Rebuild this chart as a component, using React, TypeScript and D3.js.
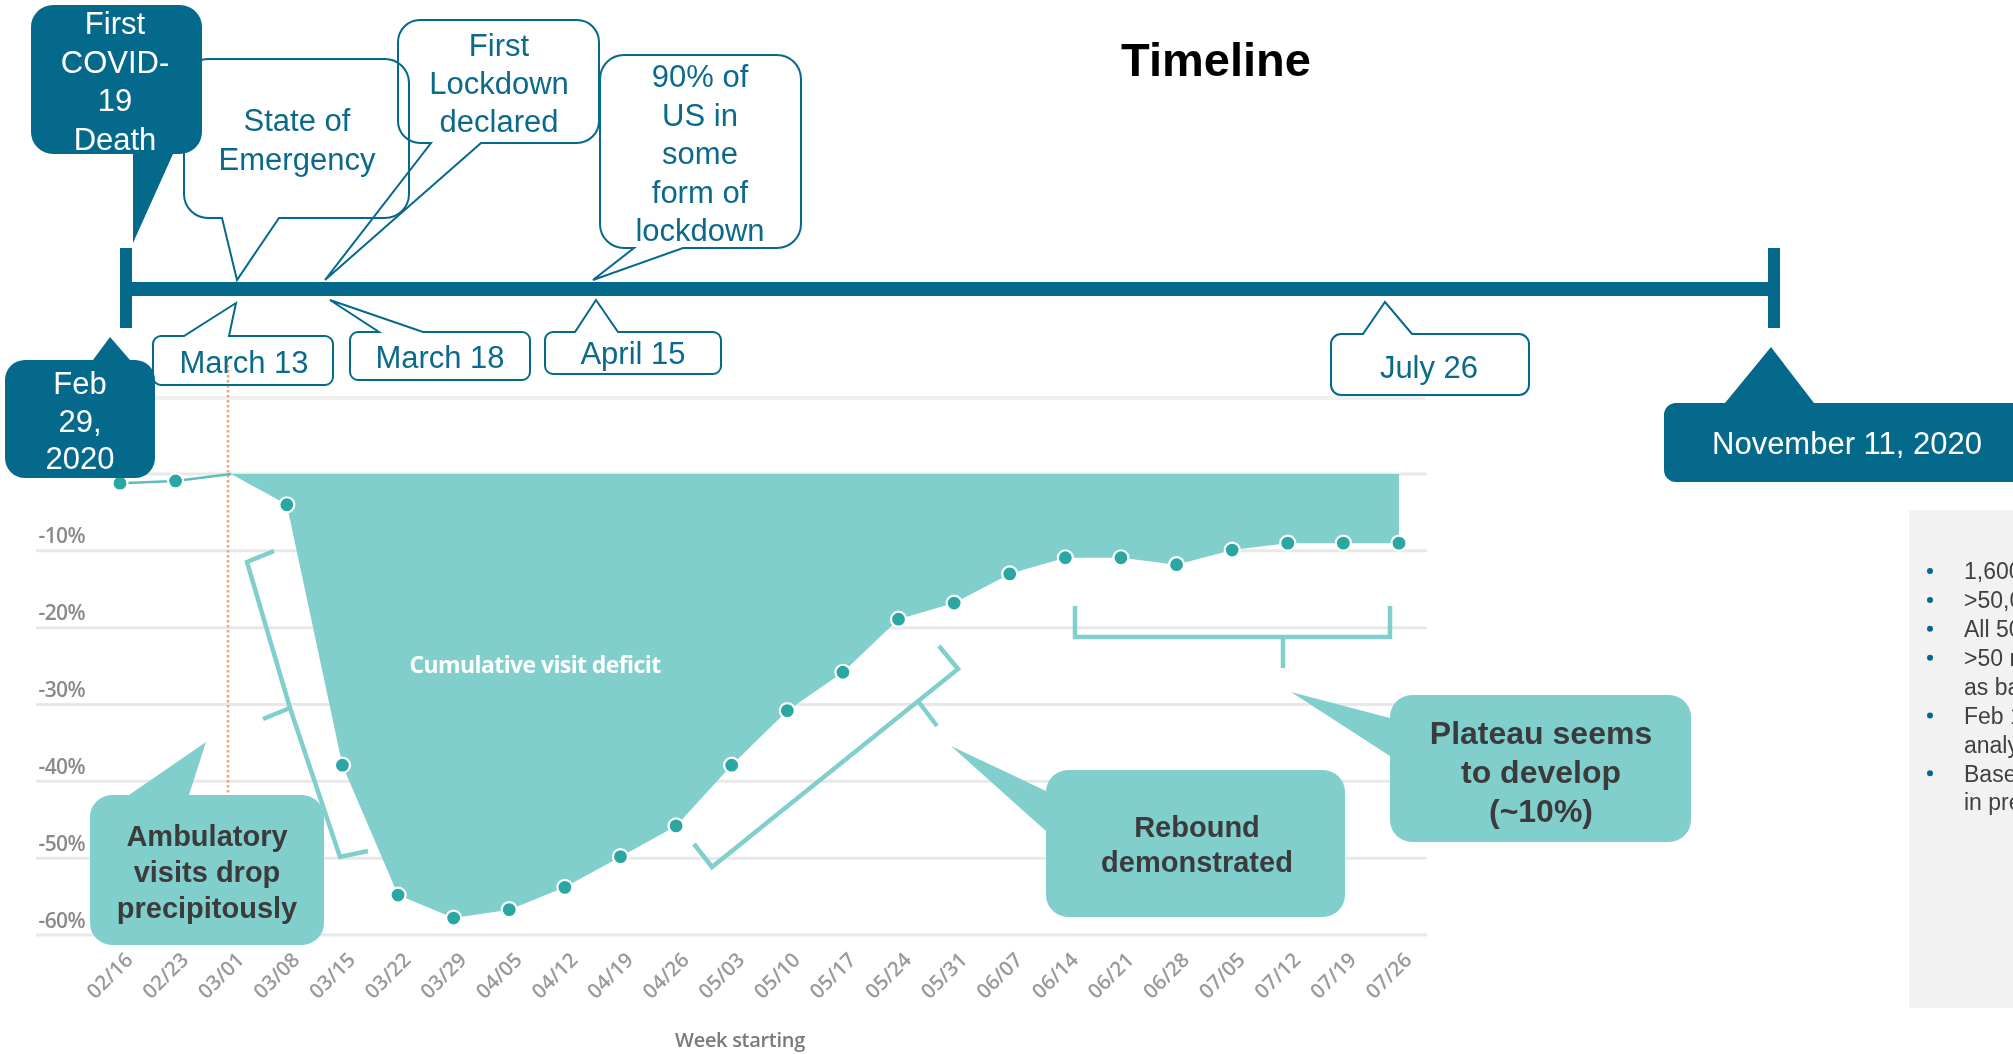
import React from "react";
import * as d3 from "d3";

// ---------- data ----------
const WEEKS = [
  "02/16", "02/23", "03/01", "03/08", "03/15", "03/22", "03/29", "04/05",
  "04/12", "04/19", "04/26", "05/03", "05/10", "05/17", "05/24", "05/31",
  "06/07", "06/14", "06/21", "06/28", "07/05", "07/12", "07/19", "07/26",
];
const VISIT_CHANGE = [
  -1.2, -0.9, 0, -4.0, -37.9, -54.8, -57.8, -56.7,
  -53.8, -49.8, -45.8, -37.9, -30.8, -25.8, -18.9, -16.8,
  -13.0, -10.9, -10.9, -11.8, -9.9, -9.0, -9.0, -9.0,
];
const Y_TICKS = [0, -10, -20, -30, -40, -50, -60];
const DEFICIT_START = 2; // week index where the cumulative deficit begins (03/01)

const TIMELINE_TOP = ["First", "COVID-", "19", "Death"];
const TIMELINE_START = ["Feb", "29,", "2020"];
const STATE_EMERGENCY = ["State of", "Emergency"];
const FIRST_LOCKDOWN = ["First", "Lockdown", "declared"];
const US_LOCKDOWN = ["90% of", "US in", "some", "form of", "lockdown"];
const DATE_LABELS = ["March 13", "March 18", "April 15", "July 26"];
const TIMELINE_END = "November 11, 2020";
const AMBULATORY = ["Ambulatory", "visits drop", "precipitously"];
const REBOUND = ["Rebound", "demonstrated"];
const PLATEAU = ["Plateau seems", "to develop", "(~10%)"];
const NOTES = [
  { bullet: true, text: "1,600 hospitals" },
  { bullet: true, text: ">50,000 clinics" },
  { bullet: true, text: "All 50 states" },
  { bullet: true, text: ">50 million patients" },
  { bullet: false, text: "as baseline" },
  { bullet: true, text: "Feb 16 – Jul 26" },
  { bullet: false, text: "analysis" },
  { bullet: true, text: "Based on" },
  { bullet: false, text: "in previous years" },
];

// ---------- style ----------
const DARK = "#05698C";
const TEAL_TEXT = "#0B6A8C";
const LIGHT = "#80CFCD";
const DOT = "#2AA7A3";
const CALLOUT_TEXT = "#3B3B3B";
const ARIAL = "Arial, 'Liberation Sans', sans-serif";
const CHART_FONT = "'Open Sans', 'Noto Sans', sans-serif";

type Side = "top" | "bottom" | "left";
function callout(
  x: number, y: number, w: number, h: number, r: number,
  side: Side, a: number, tip: [number, number], b: number
) {
  const p: string[] = [];
  p.push(`M${x + r},${y}`);
  if (side === "top") p.push(`L${a},${y}L${tip[0]},${tip[1]}L${b},${y}`);
  p.push(`L${x + w - r},${y}A${r},${r} 0 0 1 ${x + w},${y + r}`);
  p.push(`L${x + w},${y + h - r}A${r},${r} 0 0 1 ${x + w - r},${y + h}`);
  if (side === "bottom") p.push(`L${b},${y + h}L${tip[0]},${tip[1]}L${a},${y + h}`);
  p.push(`L${x + r},${y + h}A${r},${r} 0 0 1 ${x},${y + h - r}`);
  if (side === "left") p.push(`L${x},${b}L${tip[0]},${tip[1]}L${x},${a}`);
  p.push(`L${x},${y + r}A${r},${r} 0 0 1 ${x + r},${y}Z`);
  return p.join("");
}

function Lines({ lines, x, y0, step, size, fill, weight = "normal", family = ARIAL, anchor = "middle" }: any) {
  return (
    <text x={x} fontSize={size} fill={fill} fontWeight={weight} fontFamily={family} textAnchor={anchor}>
      {lines.map((l: string, i: number) => (
        <tspan key={i} x={x} y={y0 + i * step} dy="0.36em">{l}</tspan>
      ))}
    </text>
  );
}

export default function App() {
  const x = d3.scalePoint<string>().domain(WEEKS).range([120, 1399]);
  const y = d3.scaleLinear().domain([0, -60]).range([474, 935]);

  const pts = WEEKS.map((w, i) => ({ w, v: VISIT_CHANGE[i], i }));
  const area = d3.area<any>().x((d) => x(d.w)!).y0(y(0)).y1((d) => y(d.v));
  const line = d3.line<any>().x((d) => x(d.w)!).y((d) => y(d.v));
  const deficit = pts.filter((d) => d.i >= DEFICIT_START);
  const lead = pts.filter((d) => d.i <= DEFICIT_START);
  const bracket = d3.line<[number, number]>();

  return (
    <svg
      width={2013}
      height={1054}
      style={{ position: "absolute", left: 0, top: 0, background: "#fff", overflow: "hidden" }}
    >
      <defs>
        <filter id="soft" x="-5%" y="-5%" width="110%" height="110%">
          <feGaussianBlur stdDeviation="0.7" />
        </filter>
      </defs>
      <rect width={2013} height={1054} fill="#fff" />

      {/* ---------- chart ---------- */}
      <g filter="url(#soft)">
        <line x1={150} x2={1425} y1={398} y2={398} stroke="#f0f0f0" strokeWidth={4} />
        {Y_TICKS.map((t) => (
          <line key={t} x1={36} x2={1427} y1={y(t)} y2={y(t)} stroke="#e8e8e8" strokeWidth={3} />
        ))}
        {Y_TICKS.filter((t) => t < 0).map((t) => (
          <text key={t} x={85} y={y(t) - 15} dy="0.36em" textAnchor="end" fontSize={21}
            fontFamily={CHART_FONT} fontWeight={600} fill="#8a8a8a" letterSpacing={-0.6}>{`${t}%`}</text>
        ))}
        {WEEKS.map((w) => (
          <text key={w} transform={`translate(${x(w)! + 9},956) rotate(-45)`} textAnchor="end"
            fontSize={20.5} fontWeight={600} fontFamily={CHART_FONT} fill="#9a9a9a" dy="0.35em">{w}</text>
        ))}
        <text x={740} y={1040} dy="0.35em" textAnchor="middle" fontSize={20} fontWeight={600}
          fontFamily={CHART_FONT} fill="#7a7a7a" letterSpacing={-0.3}>Week starting</text>
      </g>

      <line x1={228} x2={228} y1={365} y2={935} stroke="#F3A470" strokeWidth={2.5} strokeDasharray="2.5,2.5" />
      <path d={area(deficit)!} fill={LIGHT} />
      <path d={line(lead)!} fill="none" stroke="#5DBEBB" strokeWidth={2.5} />
      {pts.filter((d) => d.v !== 0).map((d) => (
        <circle key={d.w} cx={x(d.w)} cy={y(d.v)} r={7.5} fill={DOT} stroke="#fff" strokeWidth={2.2} />
      ))}
      <text x={535} y={665} dy="0.35em" textAnchor="middle" fontSize={23} fontWeight="bold"
        fontFamily={CHART_FONT} fill="#fff" letterSpacing={-0.6} filter="url(#soft)">Cumulative visit deficit</text>

      {/* brackets */}
      <g fill="none" stroke={LIGHT} strokeWidth={4.5} strokeLinejoin="miter">
        <path d={bracket([[274, 551], [247, 562], [290, 708], [340, 857], [368, 851]])!} />
        <path d={bracket([[290, 708], [263, 719]])!} />
        <path d={bracket([[939, 646], [958, 669], [712, 867], [694, 844]])!} />
        <path d={bracket([[918, 701], [937, 726]])!} />
        <path d={bracket([[1075, 606], [1075, 637], [1390, 637], [1390, 606]])!} />
        <path d={bracket([[1283, 637], [1283, 668]])!} />
      </g>

      {/* chart callouts */}
      <path d={callout(90, 795, 234, 150, 22, "top", 129, [206, 742], 189)} fill={LIGHT} />
      <Lines lines={AMBULATORY} x={207} y0={836} step={36} size={29} fill={CALLOUT_TEXT} weight="bold" />
      <path d={callout(1046, 770, 299, 147, 22, "left", 791, [951, 746], 831)} fill={LIGHT} />
      <Lines lines={REBOUND} x={1197} y0={827} step={35} size={29} fill={CALLOUT_TEXT} weight="bold" />
      <path d={callout(1390, 695, 301, 147, 22, "left", 718, [1291, 692], 756)} fill={LIGHT} />
      <Lines lines={PLATEAU} x={1541} y0={732} step={39} size={32} fill={CALLOUT_TEXT} weight="bold" />

      {/* ---------- timeline ---------- */}
      <text x={1216} y={76} textAnchor="middle" fontSize={47} fontWeight="bold" fontFamily={ARIAL} fill="#000">Timeline</text>

      <rect x={120} y={282} width={1660} height={14} fill={DARK} />
      <rect x={120} y={248} width={12} height={80} fill={DARK} />
      <rect x={1768} y={248} width={12} height={80} fill={DARK} />

      <path d={callout(31, 5, 171, 149, 22, "bottom", 133, [133, 243], 173)} fill={DARK} />
      <Lines lines={TIMELINE_TOP} x={115} y0={23} step={38.5} size={31} fill="#fff" />

      <path d={callout(5, 360, 150, 118, 20, "top", 93, [110, 337], 130)} fill={DARK} />
      <Lines lines={TIMELINE_START} x={80} y0={383} step={37.5} size={31} fill="#fff" />

      <path d={callout(1664, 403, 420, 79, 12, "top", 1725, [1771, 347], 1814)} fill={DARK} />
      <text x={1847} y={443} dy="0.36em" textAnchor="middle" fontSize={31} fontFamily={ARIAL} fill="#fff">{TIMELINE_END}</text>

      <g fill="none" stroke={DARK} strokeWidth={2}>
        <path d={callout(184, 59, 225, 159, 24, "bottom", 222, [237, 280], 279)} />
        <path d={callout(398, 20, 201, 123, 22, "bottom", 431, [325, 280], 481)} />
        <path d={callout(600, 55, 201, 193, 24, "bottom", 634, [593, 280], 683)} />
        <path d={callout(153, 336, 180, 49, 8, "top", 184, [236, 303], 229)} />
        <path d={callout(350, 332, 180, 48, 8, "top", 379, [330, 300], 423)} />
        <path d={callout(545, 332, 176, 42, 8, "top", 575, [596, 300], 618)} />
        <path d={callout(1331, 334, 198, 61, 10, "top", 1363, [1385, 302], 1412)} />
      </g>
      <Lines lines={STATE_EMERGENCY} x={297} y0={120} step={39} size={31} fill={TEAL_TEXT} />
      <Lines lines={FIRST_LOCKDOWN} x={499} y0={45} step={38} size={31} fill={TEAL_TEXT} />
      <Lines lines={US_LOCKDOWN} x={700} y0={76} step={38.5} size={31} fill={TEAL_TEXT} />
      <Lines lines={[DATE_LABELS[0]]} x={244} y0={362} step={0} size={31} fill={TEAL_TEXT} />
      <Lines lines={[DATE_LABELS[1]]} x={440} y0={357} step={0} size={31} fill={TEAL_TEXT} />
      <Lines lines={[DATE_LABELS[2]]} x={633} y0={353} step={0} size={31} fill={TEAL_TEXT} />
      <Lines lines={[DATE_LABELS[3]]} x={1429} y0={367} step={0} size={31} fill={TEAL_TEXT} />

      {/* ---------- notes panel ---------- */}
      <rect x={1909} y={510} width={200} height={498} fill="#F2F2F2" />
      {NOTES.map((n, i) => (
        <g key={i}>
          {n.bullet && <circle cx={1930} cy={571 + i * 28.9} r={3} fill={DARK} />}
          <text x={1964} y={571 + i * 28.9} dy="0.36em" fontSize={23} fontFamily={ARIAL} fill="#404040">{n.text}</text>
        </g>
      ))}
    </svg>
  );
}
